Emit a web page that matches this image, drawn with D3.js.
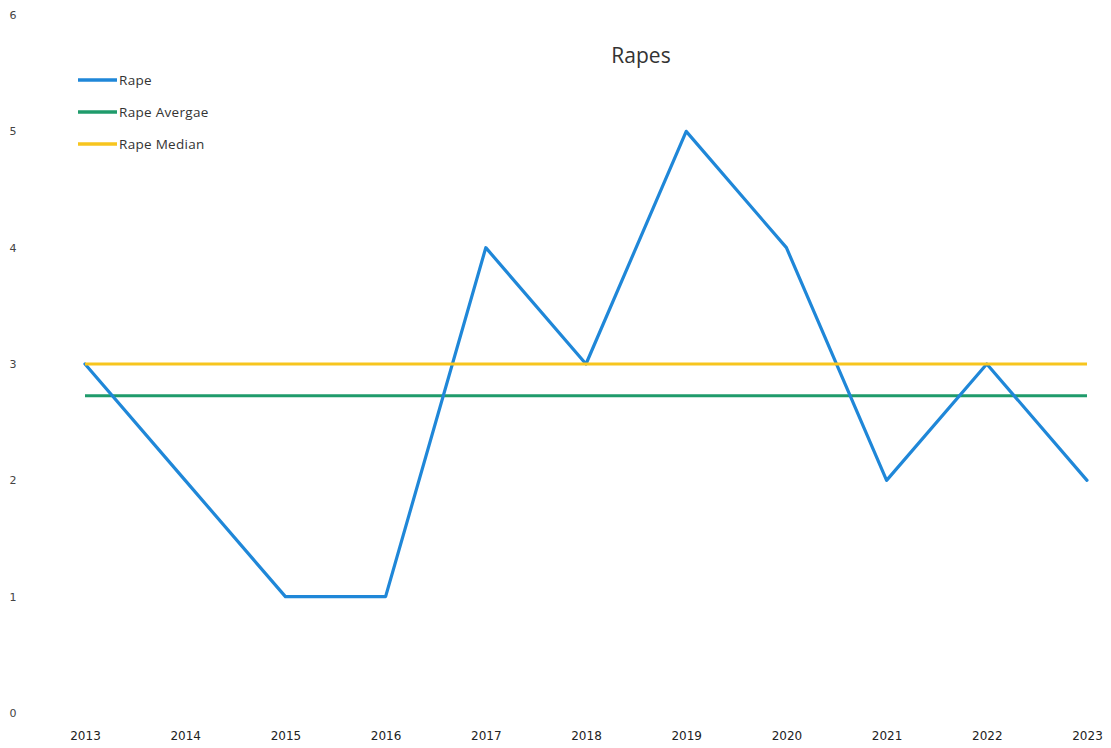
<!DOCTYPE html>
<html>
<head>
<meta charset="utf-8">
<script src="https://cdn.jsdelivr.net/npm/d3@7"></script>
<style>
  html, body { margin: 0; padding: 0; background: #fff; }
  svg { display: block; }
</style>
</head>
<body>
<svg id="chart" width="1111" height="748"></svg>
<script>
// Yearly rape counts, with the series average and median as flat reference lines
const years = ["2013","2014","2015","2016","2017","2018","2019","2020","2021","2022","2023"];
const rapeCounts = [3, 2, 1, 1, 4, 3, 5, 4, 2, 3, 2];
const yTicks = [0, 1, 2, 3, 4, 5, 6];
const seriesNames = ["Rape", "Rape Avergae", "Rape Median"];
const seriesColors = ["#1f87d8", "#1f9b6b", "#f7c51e"];

const avgValue = d3.mean(rapeCounts);
const medianValue = d3.median(rapeCounts);

const svg = d3.select("#chart");

const x = d3.scalePoint().domain(years).range([85, 1087]);
const y = d3.scaleLinear().domain([0, 6]).range([713, 15]);

// Y axis labels (no line, no ticks)
const yAxis = d3.axisLeft(y).tickValues(yTicks).tickFormat(d3.format("d")).tickSize(0).tickPadding(0);
const gy = svg.append("g").attr("transform", "translate(13,0)").call(yAxis);
gy.select(".domain").remove();
gy.selectAll("text")
  .attr("text-anchor", "middle")
  .attr("font-family", "'DejaVu Sans', sans-serif")
  .attr("font-size", 11)
  .attr("fill", "#444")
  .attr("dy", "0.32em");

// X axis labels
const xAxis = d3.axisBottom(x).tickSize(0).tickPadding(0);
const gx = svg.append("g").attr("transform", "translate(0,733)").call(xAxis);
gx.select(".domain").remove();
gx.selectAll("text")
  .attr("font-family", "'DejaVu Sans', sans-serif")
  .attr("font-size", 12)
  .attr("fill", "#222")
  .attr("dy", "0.6em");

const line = d3.line().x((d, i) => x(years[i])).y(d => y(d));

// Average reference line
svg.append("path")
  .datum(years.map(() => avgValue))
  .attr("d", line)
  .attr("fill", "none")
  .attr("stroke", seriesColors[1])
  .attr("stroke-width", 3);

// Main series
svg.append("path")
  .datum(rapeCounts)
  .attr("d", line)
  .attr("fill", "none")
  .attr("stroke", seriesColors[0])
  .attr("stroke-width", 3.2)
  .attr("stroke-linejoin", "round")
  .attr("stroke-linecap", "round");

// Median reference line
svg.append("path")
  .datum(years.map(() => medianValue))
  .attr("d", line)
  .attr("fill", "none")
  .attr("stroke", seriesColors[2])
  .attr("stroke-width", 3);

// Title
svg.append("text")
  .attr("x", 641)
  .attr("y", 63)
  .attr("text-anchor", "middle")
  .attr("font-family", "'Open Sans', sans-serif")
  .attr("font-size", 21)
  .attr("fill", "#333")
  .text("Rapes");

// Legend
const legend = svg.append("g");
seriesNames.forEach((name, i) => {
  const ly = 80 + i * 32;
  legend.append("line")
    .attr("x1", 78).attr("x2", 117)
    .attr("y1", ly).attr("y2", ly)
    .attr("stroke", seriesColors[i])
    .attr("stroke-width", 3.5);
  legend.append("text")
    .attr("x", 119)
    .attr("y", ly)
    .attr("dy", "0.35em")
    .attr("font-family", "'Open Sans', sans-serif")
    .attr("font-size", 13.5)
    .attr("letter-spacing", "0.3")
    .attr("fill", "#333")
    .text(name);
});
</script>
</body>
</html>
